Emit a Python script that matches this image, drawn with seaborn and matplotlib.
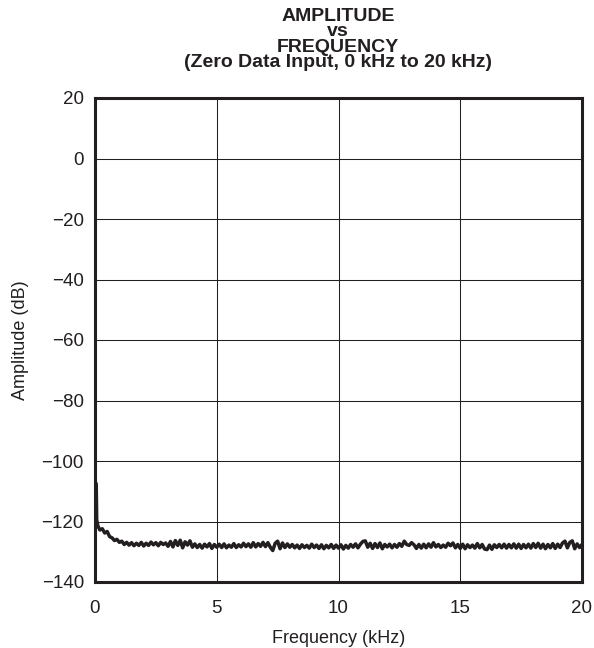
import numpy as np
import pandas as pd
import matplotlib
matplotlib.use("Agg")
import matplotlib.pyplot as plt
import seaborn as sns

# start of the trace (the spike near DC)
head_khz = [0.0, 0.05, 0.07, 0.12, 0.2, 0.3, 0.4, 0.5, 0.6, 0.7, 0.8, 0.9, 1.0]
head_db = [-107.0, -107.5, -119.5, -121.5, -122.8, -122.4, -123.8, -123.3,
           -125.0, -125.4, -126.3, -125.9, -126.9]

# rest of the trace, 1.1 kHz .. 20.0 kHz in 0.1 kHz steps
tail_db = [
    -126.5, -127.6, -126.9, -127.8, -127.0, -128.0, -127.2, -127.9, -126.9, -128.1,
    -127.2, -127.9, -126.8, -127.7, -127.0, -128.0, -126.9, -127.6, -127.1, -128.2,
    -126.6, -128.4, -126.3, -127.9, -126.2, -128.7, -126.7, -127.8, -126.4, -128.5,
    -127.4, -128.6, -127.6, -128.8, -127.5, -128.4, -127.3, -128.9, -127.6, -128.5,
    -127.5, -128.6, -127.4, -128.7, -127.8, -128.5, -127.3, -128.6, -127.7, -128.4,
    -127.2, -128.3, -127.4, -128.5, -127.0, -128.4, -127.3, -128.2, -126.9, -128.3,
    -127.0, -128.5, -129.6, -127.2, -126.5, -129.0, -127.1, -128.6, -127.4, -128.5,
    -127.6, -128.7, -127.8, -128.9, -127.7, -128.6, -127.9, -128.8, -127.5, -128.6,
    -127.8, -128.9, -127.7, -129.0, -127.9, -128.7, -127.6, -128.9, -127.8, -128.8,
    -127.7, -129.1, -127.9, -128.8, -127.6, -128.5, -127.4, -128.7, -127.5, -126.6,
    -126.4, -128.5, -127.2, -128.9, -127.3, -128.6, -127.1, -129.0, -127.6, -128.4,
    -127.5, -128.7, -127.6, -128.5, -127.3, -128.2, -126.5, -127.6, -127.9, -127.0,
    -127.7, -128.9, -127.6, -128.8, -127.5, -128.7, -127.4, -128.5, -127.0, -128.4,
    -127.6, -128.6, -127.8, -128.5, -127.2, -128.0, -127.1, -128.7, -127.6, -128.9,
    -127.5, -129.0, -127.7, -128.6, -127.8, -128.8, -127.3, -128.7, -127.6, -129.1,
    -129.3, -127.8, -129.2, -127.7, -128.6, -127.6, -128.7, -127.5, -128.8, -127.6,
    -128.7, -127.4, -128.8, -127.5, -128.9, -127.6, -128.7, -127.5, -128.8, -127.3,
    -128.6, -127.2, -128.8, -127.5, -129.0, -127.6, -128.7, -127.3, -128.9, -127.5,
    -128.6, -127.1, -126.5, -128.7, -126.9, -126.4, -129.0, -127.4, -128.6, -127.6,
]
tail_khz = np.round(np.arange(1.1, 20.05, 0.1), 2)[:len(tail_db)]

x_ticks = [0, 5, 10, 15, 20]
y_ticks = [20, 0, -20, -40, -60, -80, -100, -120, -140]
title = "AMPLITUDE\nvs\nFREQUENCY\n(Zero Data Input, 0 kHz to 20 kHz)"

df = pd.DataFrame({
    "khz": list(head_khz) + list(tail_khz),
    "db": head_db + tail_db,
})

sns.set_style("white")
plt.rcParams["font.family"] = ["Liberation Sans", "DejaVu Sans"]

ink = "#231f20"
fig = plt.figure(figsize=(5.94, 6.48), dpi=100)
ax = fig.add_axes([95 / 594, 1 - 582 / 648, 487 / 594, 484 / 648])

sns.lineplot(data=df, x="khz", y="db", ax=ax, color=ink, linewidth=2.5,
             estimator=None, sort=False)

ax.set_xlim(0, 20)
ax.set_ylim(-140, 20)
ax.set_xticks(x_ticks)
ax.set_yticks(y_ticks)
ax.grid(True, color=ink, linewidth=0.75)
ax.tick_params(length=0, labelsize=13.5, colors=ink)
ax.tick_params(axis="x", pad=13)
ax.tick_params(axis="y", pad=8)
for s in ax.spines.values():
    s.set_color(ink)
    s.set_linewidth(2.2)

ax.set_xlabel("Frequency (kHz)", fontsize=13, color=ink, labelpad=9)
ax.set_ylabel("Amplitude (dB)", fontsize=13, color=ink, labelpad=9)

# bold title block, last baseline at ~67 px from the top
fig.text(338 / 594, 1 - 67 / 648, title, ha="center", va="baseline",
         multialignment="center", fontsize=14, fontweight="bold",
         color=ink, linespacing=0.87)

fig.savefig("out.png", dpi=100)
